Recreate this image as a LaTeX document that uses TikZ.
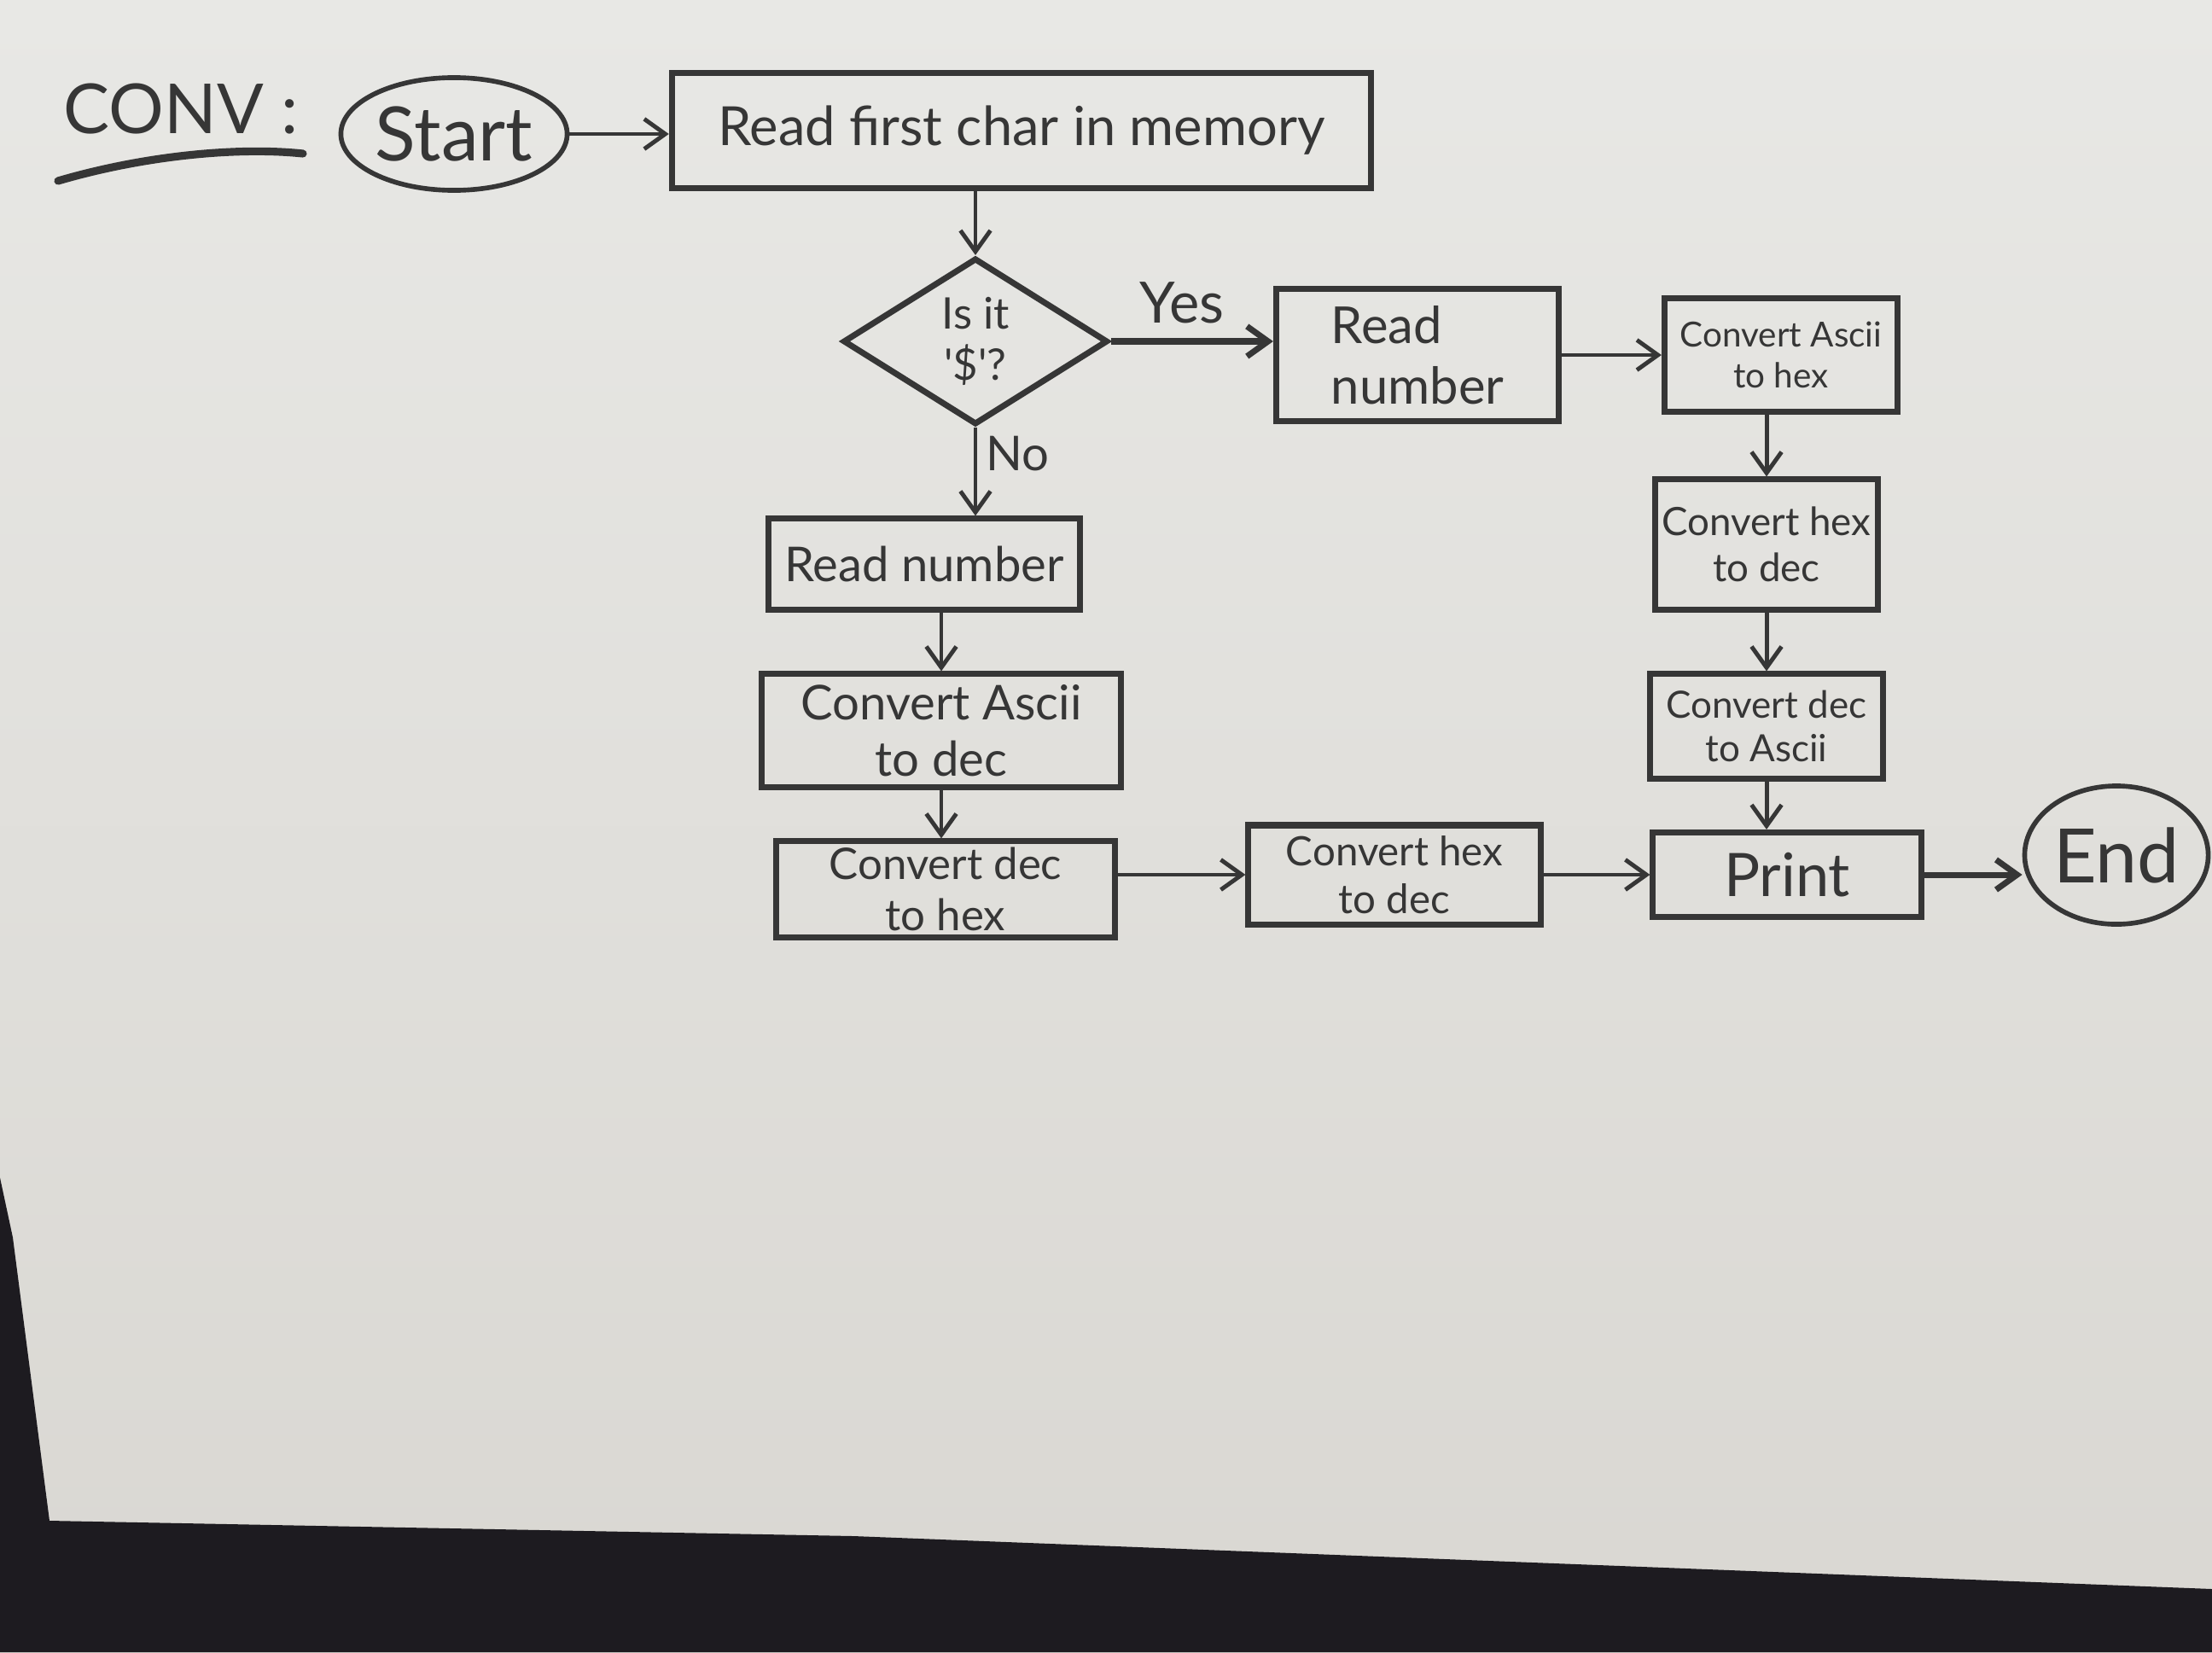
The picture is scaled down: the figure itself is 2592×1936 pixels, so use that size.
\documentclass[tikz,border=0pt]{standalone}
\usepackage{fontspec}
\setmainfont{Lato}
\usetikzlibrary{shapes.geometric,arrows.meta}
\definecolor{pen}{HTML}{363636}
\definecolor{paperA}{HTML}{E8E8E5}
\definecolor{paperB}{HTML}{D9D7D2}
\definecolor{darkbg}{HTML}{1D1B20}
\newcommand\fz[1]{\fontsize{#1pt}{1.18\dimexpr#1pt\relax}\selectfont}
\tikzset{
  box/.style={draw=pen, line width=2pt, rectangle, align=center, inner sep=2pt, text=pen},
  terminal/.style={draw=pen, ellipse, line width=1.6pt, inner sep=0pt, text=pen},
  decision/.style={draw=pen, diamond, line width=2pt, aspect=1.6, inner sep=0pt, align=center, text=pen},
  arr/.style={draw=pen, line width=1.4pt, -{Straight Barb[length=7pt,width=10pt]}},
  lbl/.style={text=pen, inner sep=1pt}
}
\begin{document}
\begin{tikzpicture}[x=0.01cm,y=-0.01cm]
\useasboundingbox (0,0) rectangle (2592,1936);
% paper and surroundings
\shade[top color=paperA, bottom color=paperB] (0,0) rectangle (2592,1936);
\fill[darkbg] (0,1380) -- (15,1450) -- (58,1782) -- (1000,1800) -- (2592,1862) -- (2592,1936) -- (0,1936) -- cycle;

% title
\node[lbl, font=\fz{23}] (conv) at (212,128) {CONV :};
\draw[pen, line width=2.6pt, line cap=round] (68,212) .. controls (170,182) and (280,172) .. (355,180);

% nodes
\node[terminal, minimum width=2.65cm, minimum height=1.32cm, font=\fz{25}] (start) at (532,157) {Start};
\node[box, minimum width=8.19cm, minimum height=1.34cm, font=\fz{18}] (read) at (1197,153) {Read first char in memory};
\node[decision, minimum width=3.1cm, minimum height=1.95cm, font=\fz{14.5}] (dia) at (1143,400) {Is it\\\textquotesingle\$\textquotesingle?};
\node[box, minimum width=3.31cm, minimum height=1.54cm, font=\fz{17}, align=left] (rnr) at (1661,416) {Read\\number};
\node[box, minimum width=2.73cm, minimum height=1.33cm, font=\fz{11.5}] (cah) at (2087,416) {Convert Ascii\\to hex};
\node[box, minimum width=2.6cm, minimum height=1.52cm, font=\fz{13}] (chdr) at (2070,638) {Convert hex\\to dec};
\node[box, minimum width=2.73cm, minimum height=1.22cm, font=\fz{12.5}] (cda) at (2070,851) {Convert dec\\to Ascii};
\node[box, minimum width=3.14cm, minimum height=0.99cm, font=\fz{20}] (print) at (2094,1025) {Print};
\node[terminal, minimum width=2.15cm, minimum height=1.62cm, font=\fz{25}] (end) at (2480,1002) {End};
\node[box, minimum width=3.64cm, minimum height=1.06cm, font=\fz{16}] (rnl) at (1083,661) {Read number};
\node[box, minimum width=4.21cm, minimum height=1.32cm, font=\fz{16}] (cad) at (1103,856) {Convert Ascii\\to dec};
\node[box, minimum width=3.97cm, minimum height=1.08cm, font=\fz{14.5}] (cdh) at (1108,1042) {Convert dec\\to hex};
\node[box, minimum width=3.42cm, minimum height=1.16cm, font=\fz{13.5}] (chdb) at (1634,1025) {Convert hex\\to dec};

% labels
\node[lbl, font=\fz{19}] (yes) at (1385,355) {Yes};
\node[lbl, font=\fz{16}] (no) at (1192,532) {No};

% connectors
\draw[arr] (start.east) -- (start.east -| read.west);
\draw[arr] (read.south -| dia.north) -- (dia.north);
\draw[arr, line width=2pt] (dia.east) -- (dia.east -| rnr.west);
\draw[arr] (rnr.east) -- (cah.west);
\draw[arr] (cah.south -| chdr.north) -- (chdr.north);
\draw[arr] (chdr.south) -- (cda.north);
\draw[arr] (cda.south) -- (cda.south |- print.north);
\draw[arr, line width=2pt] (print.east) -- (print.east -| end.west);
\draw[arr] (dia.south) -- (dia.south |- rnl.north);
\draw[arr] (cad.north |- rnl.south) -- (cad.north);
\draw[arr] (cad.south) -- (cad.south |- cdh.north);
\draw[arr] (cdh.east |- chdb.west) -- (chdb.west);
\draw[arr] (chdb.east) -- (print.west);
\end{tikzpicture}
\end{document}
